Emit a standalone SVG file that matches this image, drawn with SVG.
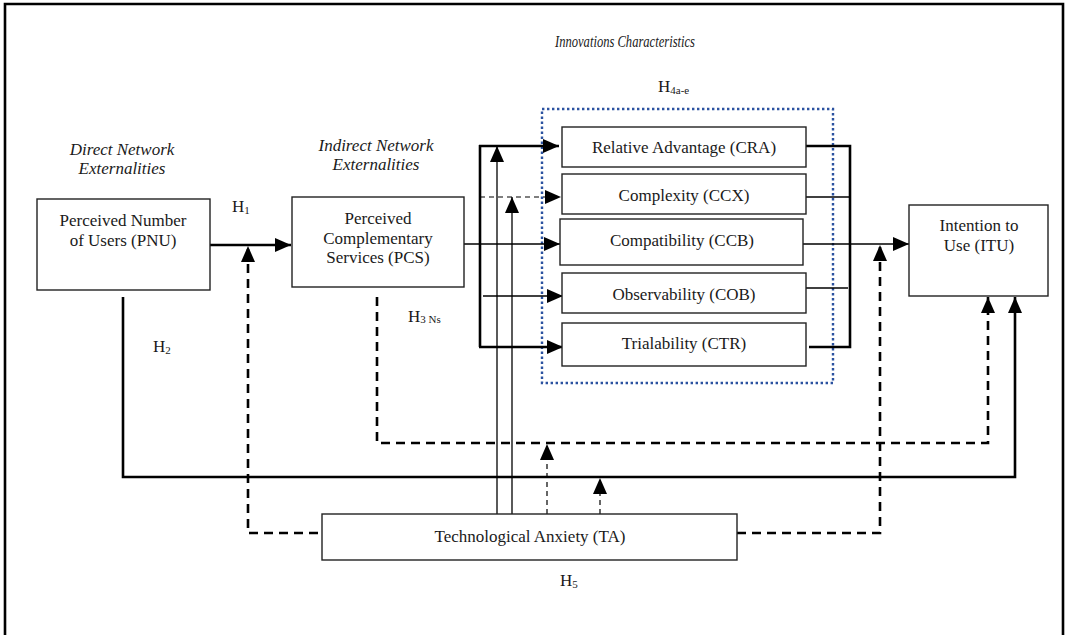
<svg xmlns="http://www.w3.org/2000/svg" width="1066" height="635" viewBox="0 0 1066 635">
<defs>
<style>
text{font-family:"Liberation Serif","Times New Roman",serif;fill:#1a1a1a;font-size:17px}
.it{font-style:italic}
.mid{text-anchor:middle}
.box{fill:#fff;stroke:#222;stroke-width:1.4}
.thick{fill:none;stroke:#000;stroke-width:2.6}
.thin{fill:none;stroke:#000;stroke-width:1.3}
.dthick{fill:none;stroke:#000;stroke-width:2.6;stroke-dasharray:9 6}
.dthin{fill:none;stroke:#000;stroke-width:1.2;stroke-dasharray:5 4}
.frame{fill:none;stroke:#000;stroke-width:2.6}
.sub{font-size:11px}
</style>
<marker id="ah" markerUnits="userSpaceOnUse" markerWidth="16" markerHeight="14" refX="16" refY="7" orient="auto">
<path d="M0,0 L16,7 L0,14 z" fill="#000"/>
</marker>
</defs>
<rect width="1066" height="635" fill="#fff"/>
<path class="frame" d="M5,640 V4 H1063 V640"/>

<g id="labels">
<text class="it" x="555" y="47" textLength="140" lengthAdjust="spacingAndGlyphs">Innovations Characteristics</text>
<text class="it mid" x="122" y="155">Direct Network</text>
<text class="it mid" x="122" y="174">Externalities</text>
<text class="it mid" x="376" y="151">Indirect Network</text>
<text class="it mid" x="376" y="170">Externalities</text>
<text x="658" y="92">H<tspan class="sub" font-size="10" dy="2">4a-e</tspan></text>
<text x="232" y="212">H<tspan class="sub" dy="2">1</tspan></text>
<text x="153" y="352">H<tspan class="sub" dy="2">2</tspan></text>
<text x="408" y="322">H<tspan class="sub" dy="1">3 Ns</tspan></text>
<text x="560" y="586">H<tspan class="sub" dy="2">5</tspan></text>
</g>

<g id="innovation-group">
<rect x="542" y="109" width="291" height="274" fill="none" stroke="#2b52a0" stroke-width="2.4" stroke-dasharray="2.4 2.6"/>
</g>

<g id="connectors">
<line class="thick" x1="210" y1="245" x2="291" y2="245" marker-end="url(#ah)"/>
<path class="thick" d="M480,145 V347"/>
<line class="thick" x1="479" y1="146" x2="559" y2="146" marker-end="url(#ah)"/>
<line class="thick" x1="479" y1="347" x2="563" y2="347" marker-end="url(#ah)"/>
<line class="dthin" x1="480" y1="197" x2="561" y2="197" marker-end="url(#ah)"/>
<line class="thin" x1="462" y1="244" x2="560" y2="244" marker-end="url(#ah)"/>
<line class="thin" x1="483" y1="296" x2="563" y2="296" marker-end="url(#ah)"/>
<path class="thick" d="M806,146 H850 V347 H809"/>
<line class="thin" x1="806" y1="197" x2="850" y2="197"/>
<line class="thin" x1="803" y1="288" x2="848" y2="288"/>
<line class="thin" x1="803" y1="244" x2="909" y2="244" marker-end="url(#ah)"/>
<line class="thin" x1="497" y1="514" x2="497" y2="146" marker-end="url(#ah)"/>
<line class="thin" x1="512" y1="514" x2="512" y2="197" marker-end="url(#ah)"/>
<line class="dthin" x1="547" y1="514" x2="547" y2="444" marker-end="url(#ah)"/>
<line class="dthin" x1="600" y1="514" x2="600" y2="478" marker-end="url(#ah)"/>
<path class="thick" d="M123,297 V477 H1015 V297" marker-end="url(#ah)"/>
<path class="dthick" d="M377,297 V443 H988 V297" marker-end="url(#ah)"/>
<path class="dthick" d="M318,533 H248 V246" marker-end="url(#ah)"/>
<path class="dthick" d="M737,533 H880 V245" marker-end="url(#ah)"/>
</g>

<g id="node-pnu">
<rect class="box" x="37" y="199" width="173" height="91"/>
<text class="mid" x="123" y="226">Perceived Number</text>
<text class="mid" x="123" y="246">of Users (PNU)</text>
</g>
<g id="node-pcs">
<rect class="box" x="292" y="197" width="172" height="90"/>
<text class="mid" x="378" y="224">Perceived</text>
<text class="mid" x="378" y="244">Complementary</text>
<text class="mid" x="378" y="263">Services (PCS)</text>
</g>
<g id="node-cra">
<rect class="box" x="562" y="127" width="244" height="40"/>
<text class="mid" x="684" y="153">Relative Advantage (CRA)</text>
</g>
<g id="node-ccx">
<rect class="box" x="562" y="174" width="244" height="40"/>
<text class="mid" x="684" y="201">Complexity (CCX)</text>
</g>
<g id="node-ccb">
<rect class="box" x="560" y="219" width="243" height="46"/>
<text class="mid" x="682" y="246">Compatibility (CCB)</text>
</g>
<g id="node-cob">
<rect class="box" x="562" y="273" width="244" height="40"/>
<text class="mid" x="684" y="300">Observability (COB)</text>
</g>
<g id="node-ctr">
<rect class="box" x="562" y="323" width="244" height="43"/>
<text class="mid" x="684" y="349">Trialability (CTR)</text>
</g>
<g id="node-itu">
<rect class="box" x="909" y="205" width="139" height="91"/>
<text class="mid" x="979" y="231">Intention to</text>
<text class="mid" x="979" y="251">Use (ITU)</text>
</g>
<g id="node-ta">
<rect class="box" x="322" y="514" width="415" height="46"/>
<text class="mid" x="530" y="542">Technological Anxiety (TA)</text>
</g>
</svg>
